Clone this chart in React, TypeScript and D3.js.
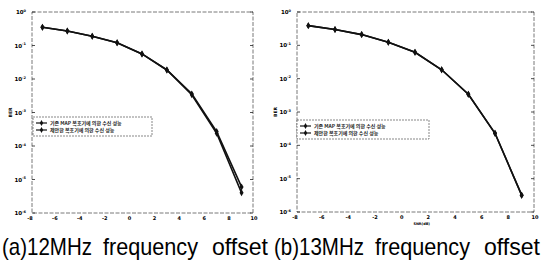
import React from "react";
import * as d3 from "d3";

// SNR points (dB) and BER values
const snr = [-7, -5, -3, -1, 1, 3, 5, 7, 9];
const berA1 = [0.35, 0.27, 0.19, 0.12, 0.056, 0.0186, 0.0036, 2.7e-4, 6e-6];
const berA2 = [0.35, 0.27, 0.19, 0.12, 0.056, 0.0186, 0.0034, 2.4e-4, 4e-6];
const berB1 = [0.39, 0.3, 0.21, 0.123, 0.062, 0.0185, 0.0034, 2.3e-4, 3.2e-6];
const berB2 = [0.39, 0.3, 0.21, 0.123, 0.062, 0.0185, 0.0034, 2.3e-4, 3.2e-6];

const xTicks = [-8, -6, -4, -2, 0, 2, 4, 6, 8, 10];
const yExp = [0, -1, -2, -3, -4, -5, -6];
const legendLabels = ["기존 MAP 복호기에 의한 수신 성능", "제안한 복호기에 의한 수신 성능"];
const captions = ["(a)12MHz frequency offset", "(b)13MHz frequency offset"];

type PanelProps = {
  left: number;
  right: number;
  top: number;
  bottom: number;
  s1: number[];
  s2: number[];
  legX: number;
  legY: number;
  legW: number;
  xlabel: boolean;
};

function Panel({ left, right, top, bottom, s1, s2, legX, legY, legW, xlabel }: PanelProps) {
  const x = d3.scaleLinear().domain([-8, 10]).range([left, right]);
  const y = d3.scaleLog().domain([1e-6, 1]).range([bottom, top]);
  const line = d3
    .line<number>()
    .x((_, i) => x(snr[i]))
    .y((d) => y(d));
  const frame = "#555";
  return (
    <g>
      <rect
        x={left + 2}
        y={top}
        width={right - left - 3}
        height={bottom - top}
        fill="none"
        stroke={frame}
        strokeWidth={0.8}
        strokeDasharray="4,1.5"
      />
      {yExp.map((e) => (
        <g key={e}>
          <line x1={left + 2} x2={left + 5} y1={y(10 ** e)} y2={y(10 ** e)} stroke="#222" strokeWidth={0.8} />
          <line x1={right - 4} x2={right - 1} y1={y(10 ** e)} y2={y(10 ** e)} stroke="#222" strokeWidth={0.8} />
          <text x={left - 4} y={y(10 ** e) + 2} fontSize={5.5} fontWeight="bold" textAnchor="end" fontFamily="DejaVu Sans">
            10
            <tspan dy={-2.5} fontSize={3.5}>
              {e}
            </tspan>
          </text>
        </g>
      ))}
      {xTicks.map((t) => (
        <text key={t} x={x(t)} y={bottom + 7} fontSize={5} fontWeight="bold" textAnchor="middle" fontFamily="DejaVu Sans">
          {t}
        </text>
      ))}
      <text
        transform={`translate(${left - 18},${(top + bottom) / 2}) rotate(-90)`}
        fontSize={4.5}
        fontWeight="bold"
        textAnchor="middle"
        fontFamily="DejaVu Sans"
      >
        BER
      </text>
      {xlabel && (
        <text x={x(1.5)} y={bottom + 13} fontSize={3.5} fontWeight="bold" textAnchor="middle" fontFamily="DejaVu Sans">
          SNR(dB)
        </text>
      )}
      <path d={line(s2) ?? ""} fill="none" stroke="#111" strokeWidth={1.6} />
      <path d={line(s1) ?? ""} fill="none" stroke="#111" strokeWidth={1.6} />
      {[s1, s2].map((s, k) =>
        s.map((d, i) => (
          <path
            key={`${k}-${i}`}
            transform={`translate(${x(snr[i])},${y(d)})`}
            d={d3.symbol(d3.symbolDiamond, 14)() ?? ""}
            fill="#111"
          />
        ))
      )}
      <rect x={legX} y={legY} width={legW} height={19} fill="#fff" stroke={frame} strokeWidth={0.7} strokeDasharray="2,1" />
      {legendLabels.map((l, i) => (
        <g key={l}>
          <line x1={legX + 3} x2={legX + 14} y1={legY + 6 + i * 7} y2={legY + 6 + i * 7} stroke="#111" strokeWidth={1.2} />
          <path transform={`translate(${legX + 8.5},${legY + 6 + i * 7})`} d={d3.symbol(d3.symbolDiamond, 10)() ?? ""} fill="#111" />
          <text x={legX + 17} y={legY + 8 + i * 7} fontSize={5} fontWeight="bold" fontFamily="Noto Sans CJK KR" fill="#222">
            {l}
          </text>
        </g>
      ))}
    </g>
  );
}

// word boxes of the caption: [start, width] relative to each caption's left edge
const wordBoxes = [
  [0, 90],
  [101, 95],
  [210, 56],
];

function Caption({ text, x0 }: { text: string; x0: number }) {
  const words = text.split(" ");
  return (
    <g>
      {words.map((w, i) => (
        <text
          key={w}
          x={x0 + wordBoxes[i][0]}
          y={255}
          fontSize={24}
          fontFamily="Liberation Sans, Arial"
          textLength={wordBoxes[i][1]}
          lengthAdjust="spacingAndGlyphs"
          fill="#000"
        >
          {w}
        </text>
      ))}
    </g>
  );
}

export default function App() {
  return (
    <svg width={544} height={262} style={{ position: "absolute", left: 0, top: 0, background: "#fff" }}>
      <rect width={544} height={262} fill="#fff" />
      <Panel left={30} right={254} top={12} bottom={213} s1={berA1} s2={berA2} legX={33} legY={117} legW={119} xlabel={false} />
      <Panel left={295} right={535} top={12} bottom={212} s1={berB1} s2={berB2} legX={297} legY={120} legW={132} xlabel={true} />
      <Caption text={captions[0]} x0={2} />
      <Caption text={captions[1]} x0={274} />
    </svg>
  );
}
